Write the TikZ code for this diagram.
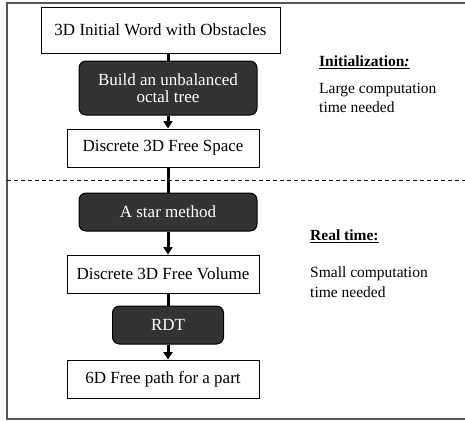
\documentclass[tikz,border=0pt]{standalone}
\usepackage{fontspec}
\setmainfont{Liberation Serif}
\usetikzlibrary{arrows.meta}
\definecolor{darkfill}{HTML}{333333}
\definecolor{framegray}{HTML}{555555}
\tikzset{
  lightbox/.style={draw=black, line width=1pt, fill=white, inner sep=0pt, align=center, font=\fontsize{17}{17}\selectfont},
  darkbox/.style={draw=black, line width=1pt, fill=darkfill, text=white, rounded corners=7pt, inner sep=0pt, align=center, font=\fontsize{17}{17}\selectfont},
  link/.style={line width=3pt, black},
  arrowlink/.style={line width=3pt, black, -{Triangle[width=9pt,length=7.5pt]}},
  sidetext/.style={anchor=west, align=left, inner sep=0pt, font=\fontsize{15.5}{19.5}\selectfont},
}
\begin{document}
\begin{tikzpicture}[x=1pt,y=-1pt]
\useasboundingbox (0,0) rectangle (465,421);
\fill[white] (0,0) rectangle (465,421);
% frame
\draw[framegray, line width=1.2pt] (466,3) -- (7,3) -- (7,419) -- (466,419);
% dashed separator
\draw[black, line width=1pt, dash pattern=on 4pt off 3pt] (7,180) -- (466,180);

\node[lightbox, minimum width=239pt, minimum height=46pt] (b1) at (160.5,30) {3D Initial Word with Obstacles};
\node[darkbox, minimum width=178pt, minimum height=54pt] (d1) at (168,88) {Build an unbalanced\\octal tree};
\node[lightbox, minimum width=192pt, minimum height=38pt] (b2) at (163,148) {Discrete 3D Free Space};
\node[darkbox, minimum width=178pt, minimum height=38pt] (d2) at (168,212) {A star method};
\node[lightbox, minimum width=192pt, minimum height=38pt] (b3) at (163,274) {Discrete 3D Free Volume};
\node[darkbox, minimum width=111pt, minimum height=38pt] (d3) at (168,325) {RDT};
\node[lightbox, minimum width=192pt, minimum height=38pt] (b4) at (163,379) {6D Free path for a part};

\draw[link] (d1.north |- b1.south) -- (d1.north);
\draw[arrowlink] (d1.south) -- (d1.south |- b2.north);
\draw[link] (d2.north |- b2.south) -- (d2.north);
\draw[arrowlink] (d2.south) -- (d2.south |- b3.north);
\draw[link] (d3.north |- b3.south) -- (d3.north);
\draw[arrowlink] (d3.south) -- (d3.south |- b4.north);

\node[sidetext] (t1) at (319,62) {\underline{\textbf{Initialization}\textit{\textbf{:}}}};
\node[sidetext] (t2) at (319,98) {Large computation\\time needed};
\node[sidetext] (t3) at (310,236) {\underline{\textbf{Real time:}}};
\node[sidetext] (t4) at (310,282) {Small computation\\time needed};
\end{tikzpicture}
\end{document}
